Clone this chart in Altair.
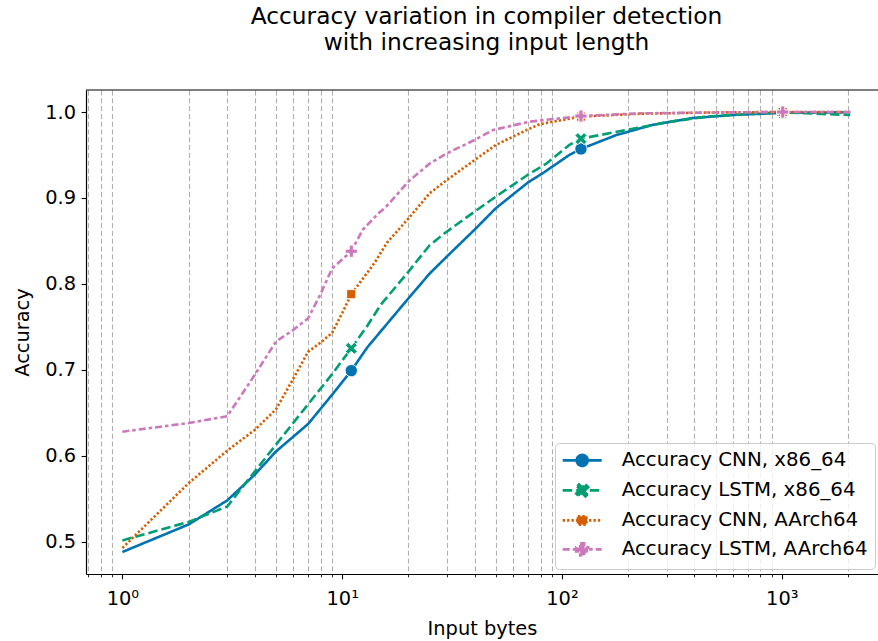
import math

import altair as alt
import pandas as pd

FONT = "DejaVu Sans"
BLACK = "#000000"

SERIES = [
    "Accuracy CNN, x86_64",
    "Accuracy LSTM, x86_64",
    "Accuracy CNN, AArch64",
    "Accuracy LSTM, AArch64",
]
COLORS = ["#0173b2", "#029e73", "#d55e00", "#cc78bc"]
DASHES = [[1, 0], [9.5, 4], [2.3, 2.1], [7, 3, 3.5, 3]]

# Input length in bytes and detection accuracy for each model / architecture
CNN_X86_BYTES = [1, 2, 3, 4, 5, 7, 9, 11, 13, 15, 20, 25, 30, 40, 50, 70, 82, 108,
                 122, 176, 258, 394, 597, 1010, 2048]
CNN_X86_ACC = [0.488, 0.520, 0.548, 0.578, 0.605, 0.637, 0.671, 0.699, 0.726, 0.745,
               0.783, 0.812, 0.832, 0.863, 0.888, 0.918, 0.929, 0.950, 0.957, 0.973,
               0.985, 0.993, 0.9965, 0.999, 0.9997]

LSTM_X86_BYTES = [1, 2, 3, 5, 7, 9, 11, 13, 15, 20, 25, 30, 40, 50, 70, 85, 108, 122,
                  196, 298, 454, 769, 1010, 2048]
LSTM_X86_ACC = [0.5015, 0.523, 0.541, 0.613, 0.660, 0.695, 0.725, 0.751, 0.776, 0.814,
                0.845, 0.861, 0.884, 0.9015, 0.927, 0.940, 0.9616, 0.969, 0.979, 0.988,
                0.9946, 0.9985, 0.9995, 0.9965]

CNN_ARM_BYTES = [1, 2, 3, 4, 5, 6, 7, 8, 9, 10, 11, 14, 16, 20, 25, 30, 40, 50, 69, 79,
                 91, 122, 226, 500, 1010, 2048]
CNN_ARM_ACC = [0.4927, 0.568, 0.606, 0.630, 0.654, 0.690, 0.721, 0.732, 0.743, 0.766,
               0.788, 0.824, 0.848, 0.876, 0.9055, 0.921, 0.944, 0.9616, 0.979, 0.9857,
               0.9887, 0.9946, 0.998, 0.9995, 1.0, 1.0]

LSTM_ARM_BYTES = [1, 2, 3, 4, 5, 6, 7, 8, 9, 11, 12.4, 14.6, 15.6, 17.7, 20, 22.6, 25,
                  30, 40, 48.5, 71, 122, 226, 500, 1010, 2048]
LSTM_ARM_ACC = [0.628, 0.638, 0.646, 0.694, 0.733, 0.7465, 0.760, 0.789, 0.818, 0.838,
                0.863, 0.882, 0.888, 0.9035, 0.919, 0.9306, 0.940, 0.952, 0.9674, 0.979,
                0.9887, 0.9953, 0.9984, 0.9995, 1.0, 1.0]

# Input lengths that carry a marker on every curve
MARKER_BYTES = [11, 122, 1010]

MAJOR_TICKS = [1, 10, 100, 1000]
MINOR_TICKS = [0.7, 0.8, 0.9] + [m * 10 ** e for e in range(3) for m in range(2, 10)] + [2000]
Y_TICKS = [0.5, 0.6, 0.7, 0.8, 0.9, 1.0]

X_DOMAIN = [0.6831, 2740]
Y_DOMAIN = [0.4624, 1.0256]


# ---- marker shapes (SVG paths in symbol units) ----
def poly(pts):
    return "M" + "L".join(f"{x:.3f},{y:.3f}" for x, y in pts) + "Z"


def plus_pts(a, b):
    return [(-b, -a), (b, -a), (b, -b), (a, -b), (a, b), (b, b), (b, a), (-b, a),
            (-b, b), (-a, b), (-a, -b), (-b, -b)]


def rot45(pts):
    c = math.sqrt(0.5)
    return [((x - y) * c, (x + y) * c) for x, y in pts]


def circle(r):
    return f"M{r},0A{r},{r},0,1,1,{-r},0A{r},{r},0,1,1,{r},0Z"


def square(h):
    return f"M{-h},{-h}H{h}V{h}H{-h}Z"


PLOT_SHAPES = [
    circle(1.0),
    poly(rot45(plus_pts(1.05, 0.34))),
    square(0.75),
    poly(plus_pts(1.0, 0.34)),
]

HANDLE = "M-3.25,0H3.25"
LEGEND_SHAPES = [
    HANDLE + circle(0.92),
    HANDLE + poly(rot45(plus_pts(1.08, 0.33))),
    HANDLE + square(0.7),
    HANDLE + poly(plus_pts(1.0, 0.33)),
]

SERIES_DATA = [
    (CNN_X86_BYTES, CNN_X86_ACC),
    (LSTM_X86_BYTES, LSTM_X86_ACC),
    (CNN_ARM_BYTES, CNN_ARM_ACC),
    (LSTM_ARM_BYTES, LSTM_ARM_ACC),
]

x_scale = alt.Scale(type="log", domain=X_DOMAIN, nice=False)
y_scale = alt.Scale(domain=Y_DOMAIN, nice=False, zero=False)

is_major = "indexof([1, 10, 100, 1000], datum.value) >= 0"

x_axis = alt.Axis(
    values=sorted(MAJOR_TICKS + MINOR_TICKS),
    labelExpr=(
        is_major
        + " ? '10' + ['\u2070', '\u00b9', '\u00b2', '\u00b3'][round(log(datum.value) / LN10)] : ''"
    ),
    labelFont=FONT,
    labelFontSize=19.4,
    labelColor=BLACK,
    labelPadding=10.5,
    labelOverlap=False,
    labelFlush=False,
    labelBound=False,
    tickColor=BLACK,
    tickSize={"condition": {"test": is_major, "value": 4.9}, "value": 2.8},
    tickWidth={"condition": {"test": is_major, "value": 1.1}, "value": 0.85},
    domainColor=BLACK,
    domainWidth=1.2,
    grid=True,
    gridColor="#b0b0b0",
    gridWidth=1.1,
    gridDash=[5, 2.8],
    gridOpacity={"condition": {"test": is_major, "value": 0}, "value": 1},
    title="Input bytes",
    titleFont=FONT,
    titleFontSize=19.4,
    titleFontWeight="normal",
    titleColor=BLACK,
    titleBaseline="alphabetic",
    titleY=60,
)

y_axis = alt.Axis(
    values=Y_TICKS,
    format=".1f",
    labelFont=FONT,
    labelFontSize=19.4,
    labelColor=BLACK,
    labelPadding=5.6,
    labelBaseline="middle",
    tickColor=BLACK,
    tickSize=4.9,
    tickWidth=1.1,
    domainColor=BLACK,
    domainWidth=1.2,
    grid=False,
    title="Accuracy",
    titleFont=FONT,
    titleFontSize=19.4,
    titleFontWeight="normal",
    titleColor=BLACK,
    titleAngle=270,
    titleAlign="center",
    titleBaseline="alphabetic",
    titleX=-58,
    titleY=242,
)

layers = []
for i, (name, (xs, ys)) in enumerate(zip(SERIES, SERIES_DATA)):
    df = pd.DataFrame({"bytes": xs, "acc": ys, "series": name})
    df_markers = df[df["bytes"].isin(MARKER_BYTES)]

    line = alt.Chart(df).mark_line(
        color=COLORS[i],
        strokeDash=DASHES[i],
        strokeWidth=2.6,
        strokeJoin="round",
        strokeCap="butt",
    ).encode(
        x=alt.X("bytes:Q", scale=x_scale, axis=x_axis if i == 0 else None),
        y=alt.Y("acc:Q", scale=y_scale, axis=y_axis if i == 0 else None),
    )

    points = alt.Chart(df_markers).mark_point(
        shape=PLOT_SHAPES[i],
        filled=True,
        fill=COLORS[i],
        stroke="white",
        strokeWidth=1,
        size=150,
        opacity=1,
    ).encode(
        x=alt.X("bytes:Q", scale=x_scale, axis=None),
        y=alt.Y("acc:Q", scale=y_scale, axis=None),
    )
    layers += [line, points]

# Top frame line of the plot area, at the upper end of the accuracy scale
top_edge = alt.Chart(pd.DataFrame({"acc": [Y_DOMAIN[1]]})).mark_rule(
    color=BLACK, strokeWidth=1.2
).encode(y=alt.Y("acc:Q", scale=y_scale, axis=None))
layers.append(top_edge)

# Legend: line handle with the series marker
legend = alt.Legend(
    orient="none",
    legendX=469,
    legendY=353,
    title=None,
    labelFont=FONT,
    labelFontSize=19.8,
    labelColor=BLACK,
    labelLimit=500,
    labelOffset=29.6,
    symbolOffset=9.8,
    symbolSize=144,
    symbolStrokeWidth=2.6,
    rowPadding=7.0,
    padding=7.5,
    strokeColor="#cccccc",
    fillColor="rgba(255,255,255,0.8)",
    cornerRadius=4,
)

legend_df = pd.DataFrame({"series": SERIES})
legend_layer = alt.Chart(legend_df).transform_filter("false").mark_point(
    filled=True, size=144, strokeWidth=2.6, opacity=1
).encode(
    fill=alt.Fill("series:N", scale=alt.Scale(domain=SERIES, range=COLORS), legend=legend),
    stroke=alt.Stroke("series:N", scale=alt.Scale(domain=SERIES, range=COLORS), legend=legend),
    shape=alt.Shape("series:N", scale=alt.Scale(domain=SERIES, range=LEGEND_SHAPES), legend=legend),
    strokeDash=alt.StrokeDash("series:N", scale=alt.Scale(domain=SERIES, range=DASHES), legend=legend),
)
layers.append(legend_layer)

chart = alt.layer(*layers).resolve_axis(x="independent", y="independent").properties(
    width=792,
    height=484,
    autosize=alt.AutoSizeParams(type="none"),
    padding={"left": 86, "top": 90, "right": 0, "bottom": 67},
    background="white",
    title=alt.TitleParams(
        text=["Accuracy variation in compiler detection", "with increasing input length"],
        font=FONT,
        fontSize=23.3,
        fontWeight="normal",
        color=BLACK,
        anchor="middle",
        frame="group",
        lineHeight=25.7,
        offset=34,
        dx=4.5,
    ),
).configure_view(stroke=None)

chart.save("out.html", embed_options={"renderer": "svg", "actions": False})
